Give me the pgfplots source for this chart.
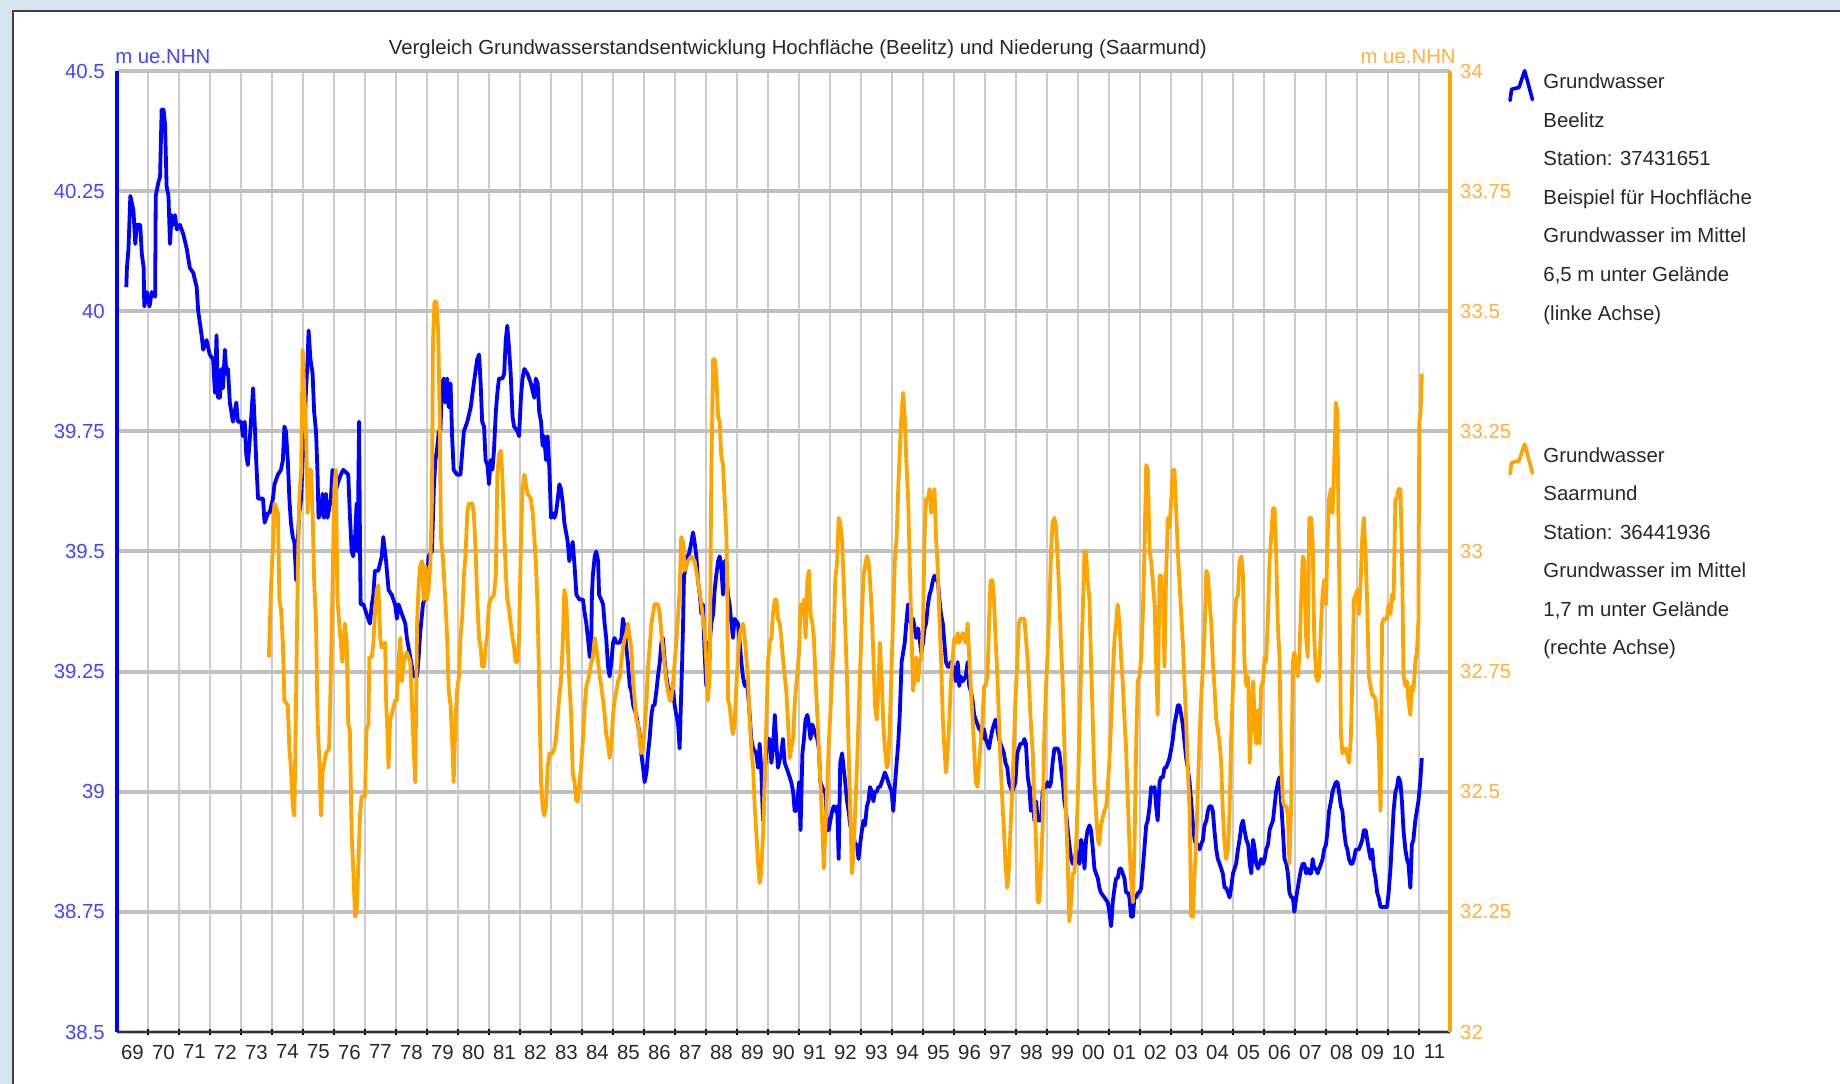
\documentclass[border=0pt]{standalone}
\usepackage{fontspec}
\setmainfont{Liberation Sans}
\usepackage{pgfplots}
\pgfplotsset{compat=1.18}

\definecolor{gwblue}{RGB}{0,0,255}
\definecolor{gworange}{RGB}{255,165,0}
\definecolor{lblblue}{RGB}{70,70,255}
\definecolor{lblorange}{RGB}{255,178,60}
\definecolor{gridh}{RGB}{192,192,192}
\definecolor{gridv}{RGB}{204,204,204}
\definecolor{framebg}{RGB}{212,229,239}
\definecolor{txt}{RGB}{40,40,40}

\newcommand{\gwfont}{\fontsize{14.5}{17}\selectfont}
\newcommand{\legfont}{\fontsize{14.5}{27.4}\selectfont}

\pgfplotsset{
  gwbase/.style={
    at={(29.25mm,13mm)}, anchor=south west,
    scale only axis, width=333.25mm, height=240.25mm,
    xmin=1969, xmax=2012,
    /pgf/number format/assume math mode=true,
    tick label style={font=\gwfont},
    separate axis lines,
    legend cell align=left,
    legend style={draw=none, fill=none, inner sep=0pt,
      nodes={inner sep=0pt}, column sep=2.3mm, font=\legfont, text=txt},
    legend image code/.code={
      \draw[##1, line width=0.9mm, line join=round, line cap=round]
        (0mm,-6.0mm) -- (0.37mm,-3.2mm) -- (2.23mm,-2.75mm)
        -- (3.63mm,1.45mm) -- (4.48mm,-1.6mm) -- (5.59mm,-5.8mm);},
  },
}

\begin{document}
\begin{tikzpicture}
\path[use as bounding box] (0,0) rectangle (460mm,271mm);
\fill[framebg] (0,0) rectangle (460mm,271mm);
\draw[fill=white, draw=black!75, line width=0.5mm] (3.25mm,-5mm) rectangle (470mm,268.25mm);

% Beelitz, left axis
\begin{axis}[gwbase,
  ymin=38.5, ymax=40.5,
  ytick={38.5,38.75,39,39.25,39.5,39.75,40,40.25,40.5},
  axis x line*=bottom, axis y line*=left,
  x axis line style={draw=black!80, line width=0.5mm, -},
  y axis line style={draw=gwblue, line width=1mm, -},
  xtick={1969.5,1970.5,...,2011.5},
  xticklabels={69,70,71,72,73,74,75,76,77,78,79,80,81,82,83,84,85,86,87,88,89,90,91,92,93,94,95,96,97,98,99,00,01,02,03,04,05,06,07,08,09,10,11},
  minor xtick={1970,1971,...,2011},
  major tick length=0pt,
  minor tick length=1.6mm,
  tick align=center,
  minor tick style={draw=black, line width=0.3mm},
  ymajorgrids, xminorgrids,
  major grid style={draw=gridh, line width=1mm},
  minor grid style={draw=gridv, line width=0.4mm},
  xticklabel style={text=txt, yshift=-2mm},
  yticklabel style={text=lblblue, xshift=-1.8mm},
  title={Vergleich Grundwasserstandsentwicklung Hochfläche (Beelitz) und Niederung (Saarmund)},
  every axis title/.style={at={(axis description cs:0.5,1)}, anchor=base,
    xshift=3.6mm, yshift=4.2mm, inner sep=0pt, font=\gwfont, text=txt},
  ylabel={m ue.NHN},
  every axis y label/.style={at={(axis description cs:0,1)}, anchor=base west,
    xshift=-0.5mm, yshift=1.8mm, inner sep=0pt, font=\gwfont, text=lblblue},
  legend style={at={(axis description cs:1.0435,1.0097)}, anchor=north west},
]
\addplot[gwblue, line width=0.95mm, line join=round, mark=none] coordinates {
(1969.30,40.05)(1969.32,40.09)(1969.37,40.13)(1969.43,40.24)(1969.53,40.21)(1969.59,40.14)(1969.64,40.18)(1969.75,40.18)
(1969.80,40.12)(1969.86,40.09)(1969.88,40.01)(1969.96,40.04)(1970.05,40.01)(1970.12,40.04)(1970.23,40.03)(1970.25,40.24)
(1970.34,40.27)(1970.39,40.28)(1970.44,40.42)(1970.50,40.42)(1970.55,40.39)(1970.60,40.26)(1970.66,40.24)(1970.71,40.14)
(1970.76,40.20)(1970.82,40.18)(1970.87,40.20)(1970.93,40.17)(1971.03,40.18)(1971.14,40.16)(1971.25,40.13)(1971.35,40.09)
(1971.46,40.08)(1971.57,40.05)(1971.62,40.00)(1971.73,39.95)(1971.78,39.92)(1971.89,39.94)(1971.99,39.91)(1972.10,39.90)
(1972.16,39.83)(1972.21,39.95)(1972.26,39.82)(1972.32,39.82)(1972.37,39.88)(1972.42,39.84)(1972.48,39.92)(1972.53,39.87)
(1972.58,39.88)(1972.64,39.81)(1972.74,39.77)(1972.85,39.81)(1972.90,39.77)(1973.01,39.77)(1973.06,39.74)(1973.12,39.77)
(1973.17,39.70)(1973.22,39.68)(1973.28,39.73)(1973.33,39.78)(1973.39,39.84)(1973.44,39.77)(1973.49,39.69)(1973.55,39.61)
(1973.60,39.61)(1973.71,39.61)(1973.76,39.56)(1973.87,39.58)(1973.92,39.58)(1974.03,39.61)(1974.08,39.64)(1974.19,39.66)
(1974.29,39.67)(1974.35,39.69)(1974.40,39.76)(1974.45,39.75)(1974.51,39.69)(1974.56,39.61)(1974.61,39.56)(1974.67,39.53)
(1974.72,39.52)(1974.78,39.44)(1974.83,39.52)(1974.88,39.58)(1974.94,39.61)(1974.99,39.69)(1975.04,39.74)(1975.10,39.84)
(1975.15,39.90)(1975.18,39.96)(1975.24,39.90)(1975.31,39.87)(1975.36,39.79)(1975.42,39.75)(1975.47,39.66)(1975.50,39.57)
(1975.58,39.58)(1975.63,39.62)(1975.68,39.57)(1975.74,39.62)(1975.79,39.57)(1975.90,39.61)(1975.95,39.67)(1976.01,39.61)
(1976.11,39.64)(1976.22,39.66)(1976.30,39.67)(1976.46,39.66)(1976.51,39.58)(1976.57,39.50)(1976.62,39.49)(1976.68,39.53)
(1976.73,39.60)(1976.76,39.50)(1976.81,39.77)(1976.84,39.50)(1976.86,39.39)(1976.95,39.39)(1977.05,39.37)(1977.16,39.35)
(1977.22,39.39)(1977.27,39.41)(1977.32,39.46)(1977.43,39.46)(1977.54,39.49)(1977.59,39.53)(1977.68,39.48)(1977.76,39.42)
(1977.86,39.41)(1977.97,39.39)(1978.03,39.36)(1978.08,39.39)(1978.19,39.37)(1978.30,39.35)(1978.35,39.32)(1978.46,39.28)
(1978.57,39.24)(1978.68,39.24)(1978.73,39.28)(1978.78,39.33)(1978.87,39.39)(1978.95,39.41)(1979.00,39.44)(1979.05,39.49)
(1979.16,39.50)(1979.22,39.63)(1979.27,39.69)(1979.32,39.71)(1979.38,39.75)(1979.43,39.75)(1979.49,39.85)(1979.54,39.86)
(1979.59,39.81)(1979.65,39.86)(1979.70,39.80)(1979.76,39.85)(1979.81,39.74)(1979.86,39.67)(1979.97,39.66)(1980.08,39.66)
(1980.14,39.71)(1980.19,39.75)(1980.30,39.77)(1980.41,39.80)(1980.51,39.85)(1980.62,39.90)(1980.68,39.91)(1980.73,39.85)
(1980.78,39.77)(1980.84,39.76)(1980.89,39.69)(1980.95,39.68)(1981.00,39.64)(1981.05,39.69)(1981.11,39.67)(1981.16,39.71)
(1981.22,39.79)(1981.27,39.83)(1981.32,39.86)(1981.43,39.86)(1981.49,39.87)(1981.54,39.94)(1981.59,39.97)(1981.65,39.92)
(1981.70,39.87)(1981.76,39.78)(1981.81,39.76)(1981.92,39.75)(1981.97,39.74)(1982.03,39.82)(1982.08,39.86)(1982.14,39.88)
(1982.24,39.87)(1982.35,39.85)(1982.46,39.82)(1982.51,39.86)(1982.57,39.85)(1982.62,39.79)(1982.68,39.77)(1982.73,39.72)
(1982.78,39.74)(1982.84,39.69)(1982.89,39.74)(1982.95,39.67)(1983.00,39.57)(1983.05,39.58)(1983.11,39.57)(1983.16,39.58)
(1983.22,39.61)(1983.27,39.64)(1983.32,39.63)(1983.38,39.60)(1983.43,39.56)(1983.54,39.52)(1983.59,39.48)(1983.70,39.52)
(1983.76,39.47)(1983.82,39.41)(1983.92,39.40)(1984.03,39.40)(1984.09,39.37)(1984.14,39.35)(1984.19,39.32)(1984.25,39.28)
(1984.30,39.32)(1984.32,39.41)(1984.35,39.45)(1984.41,39.49)(1984.46,39.50)(1984.52,39.48)(1984.55,39.41)(1984.62,39.40)
(1984.68,39.39)(1984.73,39.35)(1984.78,39.32)(1984.84,39.26)(1984.89,39.24)(1984.95,39.27)(1985.00,39.31)(1985.05,39.32)
(1985.11,39.31)(1985.22,39.31)(1985.27,39.32)(1985.32,39.36)(1985.38,39.34)(1985.43,39.30)(1985.48,39.27)(1985.54,39.22)
(1985.59,39.21)(1985.65,39.18)(1985.75,39.16)(1985.86,39.12)(1985.91,39.08)(1985.97,39.05)(1986.02,39.02)(1986.08,39.04)
(1986.13,39.08)(1986.18,39.11)(1986.24,39.16)(1986.29,39.18)(1986.34,39.18)(1986.40,39.21)(1986.45,39.24)(1986.51,39.27)
(1986.56,39.31)(1986.61,39.32)(1986.67,39.27)(1986.72,39.24)(1986.77,39.22)(1986.83,39.21)(1986.88,39.19)(1986.94,39.21)
(1986.99,39.18)(1987.04,39.16)(1987.10,39.14)(1987.15,39.09)(1987.18,39.16)(1987.23,39.27)(1987.26,39.35)(1987.29,39.45)
(1987.33,39.46)(1987.37,39.49)(1987.42,39.49)(1987.47,39.50)(1987.53,39.52)(1987.58,39.54)(1987.63,39.52)(1987.69,39.49)
(1987.74,39.44)(1987.80,39.41)(1987.85,39.37)(1987.90,39.39)(1987.96,39.28)(1988.01,39.22)(1988.06,39.31)(1988.12,39.31)
(1988.17,39.35)(1988.23,39.37)(1988.28,39.42)(1988.33,39.45)(1988.39,39.48)(1988.44,39.49)(1988.49,39.47)(1988.55,39.41)
(1988.60,39.48)(1988.66,39.45)(1988.71,39.41)(1988.76,39.39)(1988.82,39.35)(1988.87,39.32)(1988.92,39.36)(1989.03,39.35)
(1989.09,39.31)(1989.14,39.27)(1989.19,39.24)(1989.25,39.22)(1989.30,39.23)(1989.35,39.21)(1989.41,39.16)(1989.46,39.11)
(1989.52,39.09)(1989.62,39.08)(1989.68,39.05)(1989.73,39.10)(1989.78,39.05)(1989.84,38.94)(1989.89,39.04)(1989.95,39.09)
(1990.00,39.11)(1990.05,39.11)(1990.11,39.06)(1990.16,39.09)(1990.22,39.16)(1990.27,39.10)(1990.32,39.05)(1990.43,39.08)
(1990.48,39.11)(1990.54,39.06)(1990.65,39.04)(1990.75,39.02)(1990.81,39.00)(1990.86,38.96)(1990.91,38.96)(1990.95,38.98)
(1991.00,39.02)(1991.05,38.92)(1991.11,39.08)(1991.16,39.11)(1991.21,39.15)(1991.27,39.16)(1991.32,39.14)(1991.37,39.11)
(1991.43,39.14)(1991.48,39.13)(1991.53,39.12)(1991.59,39.11)(1991.64,39.09)(1991.69,39.02)(1991.75,39.01)(1991.80,39.00)
(1991.85,39.00)(1991.91,38.92)(1991.96,38.92)(1992.01,38.94)(1992.07,38.96)(1992.12,38.97)(1992.17,38.96)(1992.23,38.97)
(1992.28,38.86)(1992.33,39.06)(1992.39,39.08)(1992.44,39.05)(1992.49,39.02)(1992.55,38.98)(1992.60,38.96)(1992.65,38.93)
(1992.71,38.92)(1992.76,38.91)(1992.81,38.89)(1992.87,38.89)(1992.92,38.86)(1992.97,38.89)(1993.03,38.92)(1993.08,38.94)
(1993.13,38.93)(1993.19,38.97)(1993.24,38.98)(1993.29,39.01)(1993.35,39.00)(1993.40,38.98)(1993.45,39.00)(1993.51,39.00)
(1993.56,39.01)(1993.61,39.01)(1993.67,39.02)(1993.72,39.03)(1993.77,39.04)(1993.83,39.03)(1993.88,39.02)(1993.93,39.01)
(1993.99,39.00)(1994.04,38.96)(1994.09,39.01)(1994.15,39.06)(1994.20,39.10)(1994.25,39.16)(1994.31,39.27)(1994.36,39.29)
(1994.41,39.31)(1994.46,39.35)(1994.52,39.39)(1994.57,39.36)(1994.62,39.35)(1994.68,39.36)(1994.73,39.34)(1994.78,39.32)
(1994.84,39.34)(1994.89,39.32)(1994.94,39.29)(1995.00,39.31)(1995.05,39.34)(1995.10,39.35)(1995.16,39.39)(1995.21,39.41)
(1995.26,39.42)(1995.32,39.44)(1995.37,39.45)(1995.42,39.44)(1995.48,39.44)(1995.53,39.40)(1995.58,39.37)(1995.64,39.35)
(1995.69,39.31)(1995.74,39.27)(1995.80,39.26)(1995.85,39.26)(1995.90,39.27)(1995.96,39.26)(1996.01,39.26)(1996.06,39.23)
(1996.12,39.27)(1996.17,39.22)(1996.22,39.24)(1996.28,39.23)(1996.38,39.24)(1996.44,39.27)(1996.49,39.22)(1996.54,39.21)
(1996.60,39.19)(1996.65,39.16)(1996.70,39.15)(1996.76,39.14)(1996.81,39.13)(1996.86,39.13)(1996.92,39.11)(1996.97,39.13)
(1997.02,39.11)(1997.08,39.10)(1997.13,39.09)(1997.18,39.11)(1997.24,39.13)(1997.29,39.14)(1997.34,39.15)(1997.40,39.13)
(1997.45,39.11)(1997.50,39.10)(1997.56,39.09)(1997.61,39.08)(1997.66,39.06)(1997.72,39.05)(1997.77,39.02)(1997.82,39.01)
(1997.88,39.00)(1997.93,39.01)(1997.98,39.02)(1998.04,39.08)(1998.09,39.09)(1998.14,39.10)(1998.22,39.10)(1998.27,39.11)
(1998.32,39.10)(1998.38,39.03)(1998.43,39.01)(1998.48,38.96)(1998.54,39.01)(1998.59,38.94)(1998.65,38.98)(1998.70,38.94)
(1998.81,38.94)(1998.86,39.00)(1998.91,39.01)(1998.97,39.01)(1999.02,39.02)(1999.08,39.01)(1999.13,39.02)(1999.18,39.06)
(1999.24,39.09)(1999.29,39.09)(1999.35,39.09)(1999.40,39.08)(1999.45,39.05)(1999.51,39.02)(1999.56,38.98)(1999.61,38.96)
(1999.67,38.92)(1999.72,38.89)(1999.78,38.86)(1999.83,38.85)(1999.88,38.85)(1999.94,38.88)(1999.99,38.86)(2000.05,38.85)
(2000.10,38.90)(2000.15,38.89)(2000.21,38.84)(2000.26,38.90)(2000.31,38.92)(2000.37,38.93)(2000.42,38.92)(2000.48,38.88)
(2000.53,38.84)(2000.58,38.83)(2000.64,38.82)(2000.69,38.80)(2000.74,38.79)(2000.85,38.78)(2000.96,38.77)(2001.01,38.75)
(2001.07,38.72)(2001.12,38.77)(2001.18,38.80)(2001.23,38.82)(2001.28,38.82)(2001.34,38.84)(2001.39,38.84)(2001.44,38.83)
(2001.50,38.82)(2001.55,38.79)(2001.61,38.79)(2001.66,38.78)(2001.71,38.74)(2001.77,38.74)(2001.82,38.78)(2001.88,38.78)
(2001.93,38.79)(2001.98,38.79)(2002.04,38.80)(2002.09,38.84)(2002.14,38.88)(2002.20,38.93)(2002.25,38.94)(2002.31,38.97)
(2002.36,39.01)(2002.41,39.00)(2002.47,39.01)(2002.52,38.97)(2002.57,38.94)(2002.63,39.02)(2002.68,39.03)(2002.74,39.03)
(2002.79,39.05)(2002.84,39.05)(2002.90,39.06)(2002.95,39.07)(2003.01,39.09)(2003.06,39.11)(2003.11,39.14)(2003.17,39.16)
(2003.22,39.18)(2003.27,39.18)(2003.33,39.16)(2003.38,39.14)(2003.44,39.10)(2003.49,39.07)(2003.54,39.05)(2003.60,39.02)
(2003.65,38.98)(2003.71,38.93)(2003.76,38.90)(2003.81,38.89)(2003.87,38.89)(2003.92,38.88)(2003.97,38.89)(2004.03,38.90)
(2004.08,38.93)(2004.14,38.94)(2004.19,38.96)(2004.24,38.97)(2004.30,38.97)(2004.35,38.96)(2004.40,38.92)(2004.46,38.88)
(2004.51,38.86)(2004.57,38.85)(2004.62,38.84)(2004.67,38.83)(2004.73,38.80)(2004.78,38.80)(2004.84,38.79)(2004.89,38.78)
(2004.94,38.80)(2005.00,38.83)(2005.05,38.84)(2005.10,38.85)(2005.16,38.88)(2005.21,38.90)(2005.27,38.93)(2005.32,38.94)
(2005.37,38.92)(2005.43,38.90)(2005.49,38.89)(2005.54,38.85)(2005.59,38.83)(2005.65,38.90)(2005.70,38.88)(2005.75,38.85)
(2005.81,38.84)(2005.86,38.85)(2005.91,38.86)(2005.97,38.85)(2006.02,38.86)(2006.07,38.88)(2006.13,38.89)(2006.18,38.92)
(2006.23,38.93)(2006.29,38.94)(2006.34,38.97)(2006.39,39.00)(2006.45,39.02)(2006.50,39.03)(2006.55,38.98)(2006.61,38.92)
(2006.66,38.86)(2006.72,38.85)(2006.77,38.83)(2006.82,38.79)(2006.88,38.78)(2006.93,38.78)(2006.98,38.75)(2007.04,38.78)
(2007.09,38.80)(2007.14,38.82)(2007.20,38.84)(2007.25,38.85)(2007.30,38.85)(2007.36,38.83)(2007.41,38.84)(2007.46,38.83)
(2007.52,38.83)(2007.57,38.86)(2007.62,38.84)(2007.68,38.84)(2007.73,38.83)(2007.78,38.84)(2007.84,38.85)(2007.89,38.86)
(2007.94,38.88)(2008.00,38.89)(2008.05,38.92)(2008.10,38.96)(2008.16,38.98)(2008.21,39.00)(2008.26,39.01)(2008.32,39.02)
(2008.37,39.02)(2008.42,39.00)(2008.48,38.97)(2008.53,38.96)(2008.58,38.92)(2008.64,38.89)(2008.69,38.88)(2008.74,38.86)
(2008.80,38.85)(2008.85,38.85)(2008.90,38.86)(2008.96,38.88)(2009.01,38.88)(2009.06,38.88)(2009.12,38.89)(2009.17,38.90)
(2009.22,38.92)(2009.28,38.92)(2009.33,38.90)(2009.38,38.88)(2009.44,38.86)(2009.49,38.88)(2009.54,38.84)(2009.60,38.82)
(2009.65,38.79)(2009.70,38.78)(2009.76,38.76)(2009.81,38.76)(2009.86,38.76)(2009.92,38.76)(2009.97,38.76)(2010.02,38.79)
(2010.08,38.84)(2010.13,38.90)(2010.18,38.96)(2010.24,39.00)(2010.29,39.01)(2010.34,39.03)(2010.40,39.02)(2010.45,38.98)
(2010.50,38.92)(2010.56,38.88)(2010.61,38.86)(2010.66,38.85)(2010.72,38.80)(2010.77,38.89)(2010.82,38.90)(2010.88,38.94)
(2010.93,38.96)(2010.98,38.98)(2011.04,39.02)(2011.09,39.07)
};
\addlegendentry{\begin{tabular}[t]{@{}l@{}}Grundwasser\\Beelitz\\Station: 37431651\\Beispiel für Hochfläche\\Grundwasser im Mittel\\6,5 m unter Gelände\\(linke Achse)\end{tabular}}
\end{axis}

% Saarmund, right axis
\begin{axis}[gwbase,
  ymin=32, ymax=34,
  ytick={32,32.25,32.5,32.75,33,33.25,33.5,33.75,34},
  hide x axis,
  axis y line*=right,
  y axis line style={draw=gworange, line width=1mm, -},
  major tick length=0pt,
  yticklabel style={text=lblorange, xshift=1.3mm},
  ylabel={m ue.NHN},
  every axis y label/.style={at={(axis description cs:1,1)}, anchor=base east,
    xshift=1.5mm, yshift=1.8mm, inner sep=0pt, font=\gwfont, text=lblorange},
  legend style={at={(axis description cs:1.0435,0.6212)}, anchor=north west},
]
\addplot[gworange, line width=0.95mm, line join=round, mark=none] coordinates {
(1973.90,32.78)(1973.97,32.93)(1974.03,33.01)(1974.08,33.10)(1974.19,33.08)(1974.24,32.90)(1974.29,32.88)(1974.35,32.81)
(1974.40,32.69)(1974.51,32.68)(1974.56,32.59)(1974.61,32.55)(1974.67,32.47)(1974.72,32.45)(1974.78,32.71)(1974.83,32.95)
(1974.88,33.11)(1974.94,33.17)(1974.99,33.42)(1975.04,33.34)(1975.10,33.24)(1975.15,33.08)(1975.20,33.17)(1975.26,33.17)
(1975.31,33.08)(1975.36,32.94)(1975.42,32.85)(1975.47,32.65)(1975.53,32.56)(1975.58,32.45)(1975.63,32.54)(1975.74,32.58)
(1975.84,32.59)(1975.88,32.69)(1975.95,32.92)(1976.01,33.13)(1976.06,33.17)(1976.11,32.90)(1976.17,32.85)(1976.27,32.77)
(1976.35,32.85)(1976.41,32.81)(1976.46,32.64)(1976.51,32.63)(1976.57,32.41)(1976.62,32.34)(1976.68,32.24)(1976.73,32.25)
(1976.78,32.34)(1976.84,32.45)(1976.89,32.49)(1977.00,32.49)(1977.05,32.63)(1977.11,32.64)(1977.14,32.78)(1977.22,32.78)
(1977.27,32.81)(1977.32,32.87)(1977.38,32.92)(1977.43,32.93)(1977.49,32.82)(1977.54,32.80)(1977.65,32.81)(1977.68,32.69)
(1977.72,32.63)(1977.76,32.55)(1977.81,32.65)(1977.86,32.66)(1977.97,32.69)(1978.03,32.69)(1978.08,32.77)(1978.14,32.82)
(1978.19,32.73)(1978.24,32.77)(1978.35,32.79)(1978.46,32.77)(1978.51,32.69)(1978.57,32.59)(1978.62,32.52)(1978.68,32.85)
(1978.73,32.93)(1978.78,32.97)(1978.84,32.98)(1978.89,32.90)(1978.95,32.97)(1979.00,32.90)(1979.05,32.92)(1979.11,32.98)
(1979.16,33.11)(1979.19,33.43)(1979.24,33.52)(1979.30,33.52)(1979.36,33.46)(1979.41,33.28)(1979.45,33.03)(1979.52,32.98)
(1979.59,32.90)(1979.65,32.82)(1979.70,32.71)(1979.76,32.68)(1979.81,32.61)(1979.86,32.52)(1979.92,32.65)(1979.97,32.71)
(1980.03,32.74)(1980.08,32.82)(1980.14,32.87)(1980.19,32.95)(1980.24,32.99)(1980.30,33.08)(1980.35,33.10)(1980.46,33.10)
(1980.51,33.08)(1980.57,33.00)(1980.62,32.90)(1980.68,32.82)(1980.73,32.80)(1980.78,32.76)(1980.84,32.76)(1980.89,32.80)
(1980.95,32.83)(1981.00,32.89)(1981.05,32.90)(1981.16,32.91)(1981.22,32.95)(1981.27,33.16)(1981.32,33.20)(1981.38,33.21)
(1981.43,33.16)(1981.49,33.04)(1981.54,32.96)(1981.59,32.90)(1981.65,32.88)(1981.70,32.85)(1981.76,32.82)(1981.81,32.80)
(1981.86,32.77)(1981.92,32.77)(1981.97,32.82)(1982.03,33.02)(1982.08,33.13)(1982.14,33.16)(1982.19,33.14)(1982.24,33.12)
(1982.35,33.11)(1982.41,33.08)(1982.46,33.03)(1982.51,32.98)(1982.57,32.88)(1982.62,32.71)(1982.68,32.52)(1982.73,32.47)
(1982.78,32.45)(1982.84,32.47)(1982.89,32.55)(1982.95,32.58)(1983.05,32.58)(1983.11,32.59)(1983.16,32.61)(1983.22,32.66)
(1983.27,32.70)(1983.32,32.73)(1983.38,32.81)(1983.43,32.92)(1983.49,32.90)(1983.54,32.81)(1983.59,32.73)(1983.65,32.66)
(1983.70,32.54)(1983.76,32.52)(1983.82,32.48)(1983.87,32.48)(1983.92,32.52)(1983.98,32.56)(1984.03,32.61)(1984.09,32.68)
(1984.14,32.72)(1984.19,32.73)(1984.25,32.75)(1984.30,32.77)(1984.35,32.78)(1984.41,32.82)(1984.46,32.80)(1984.52,32.77)
(1984.57,32.74)(1984.62,32.72)(1984.68,32.69)(1984.73,32.66)(1984.78,32.62)(1984.84,32.60)(1984.89,32.57)(1984.95,32.60)
(1985.00,32.66)(1985.05,32.69)(1985.11,32.71)(1985.16,32.73)(1985.22,32.74)(1985.27,32.77)(1985.32,32.80)(1985.38,32.82)
(1985.43,32.83)(1985.48,32.85)(1985.54,32.82)(1985.59,32.80)(1985.65,32.73)(1985.70,32.69)(1985.75,32.65)(1985.81,32.64)
(1985.86,32.61)(1985.91,32.58)(1985.97,32.59)(1986.02,32.63)(1986.08,32.69)(1986.13,32.76)(1986.18,32.80)(1986.24,32.85)
(1986.29,32.87)(1986.34,32.89)(1986.45,32.89)(1986.51,32.87)(1986.56,32.83)(1986.61,32.80)(1986.67,32.76)(1986.72,32.73)
(1986.77,32.71)(1986.83,32.69)(1986.88,32.69)(1986.94,32.73)(1986.99,32.77)(1987.04,32.81)(1987.10,32.87)(1987.15,32.92)
(1987.20,33.03)(1987.26,33.02)(1987.31,32.96)(1987.42,32.98)(1987.53,32.99)(1987.63,32.98)(1987.74,32.94)(1987.85,32.89)
(1987.96,32.83)(1988.01,32.77)(1988.06,32.69)(1988.12,32.74)(1988.17,33.16)(1988.23,33.40)(1988.28,33.40)(1988.33,33.37)
(1988.39,33.28)(1988.44,33.27)(1988.49,33.20)(1988.55,33.18)(1988.60,33.11)(1988.66,33.03)(1988.69,32.90)(1988.71,32.69)
(1988.76,32.68)(1988.82,32.64)(1988.87,32.62)(1988.92,32.64)(1988.98,32.72)(1989.03,32.78)(1989.09,32.83)(1989.19,32.85)
(1989.25,32.82)(1989.30,32.78)(1989.35,32.74)(1989.41,32.65)(1989.46,32.59)(1989.52,32.55)(1989.57,32.47)(1989.62,32.42)
(1989.68,32.35)(1989.73,32.31)(1989.78,32.33)(1989.84,32.41)(1989.89,32.52)(1989.95,32.65)(1990.00,32.77)(1990.05,32.81)
(1990.11,32.82)(1990.16,32.87)(1990.22,32.90)(1990.27,32.90)(1990.32,32.86)(1990.38,32.85)(1990.43,32.82)(1990.48,32.78)
(1990.54,32.74)(1990.59,32.71)(1990.65,32.64)(1990.70,32.57)(1990.75,32.59)(1990.81,32.61)(1990.86,32.68)(1990.91,32.72)
(1991.00,32.79)(1991.05,32.89)(1991.11,32.87)(1991.16,32.90)(1991.21,32.82)(1991.27,32.94)(1991.32,32.96)(1991.37,32.87)
(1991.43,32.85)(1991.48,32.82)(1991.53,32.74)(1991.59,32.66)(1991.64,32.59)(1991.69,32.52)(1991.75,32.43)(1991.80,32.34)
(1991.85,32.42)(1991.91,32.51)(1991.96,32.60)(1992.01,32.66)(1992.07,32.75)(1992.12,32.82)(1992.17,32.94)(1992.23,32.98)
(1992.28,33.07)(1992.33,33.06)(1992.39,33.02)(1992.44,32.94)(1992.49,32.85)(1992.55,32.73)(1992.60,32.59)(1992.65,32.46)
(1992.71,32.33)(1992.76,32.38)(1992.81,32.46)(1992.87,32.55)(1992.92,32.65)(1992.97,32.75)(1993.03,32.87)(1993.08,32.95)
(1993.13,32.97)(1993.19,32.99)(1993.24,32.98)(1993.29,32.94)(1993.35,32.87)(1993.40,32.78)(1993.45,32.68)(1993.51,32.65)
(1993.56,32.72)(1993.61,32.81)(1993.67,32.73)(1993.72,32.64)(1993.77,32.59)(1993.83,32.55)(1993.88,32.56)(1993.93,32.64)
(1993.99,32.77)(1994.04,32.87)(1994.09,32.98)(1994.15,33.03)(1994.20,33.13)(1994.25,33.21)(1994.31,33.29)(1994.36,33.33)
(1994.41,33.28)(1994.46,33.19)(1994.52,33.11)(1994.57,32.98)(1994.62,32.85)(1994.68,32.71)(1994.73,32.74)(1994.78,32.78)
(1994.84,32.73)(1994.89,32.77)(1994.94,32.78)(1995.00,32.85)(1995.05,33.03)(1995.10,33.11)(1995.16,33.11)(1995.21,33.13)
(1995.26,33.08)(1995.32,33.11)(1995.37,33.13)(1995.42,33.03)(1995.48,32.96)(1995.53,32.86)(1995.58,32.78)(1995.64,32.65)
(1995.69,32.59)(1995.74,32.54)(1995.80,32.59)(1995.85,32.65)(1995.90,32.73)(1995.96,32.78)(1996.01,32.82)(1996.06,32.81)
(1996.12,32.83)(1996.17,32.81)(1996.22,32.82)(1996.28,32.83)(1996.33,32.82)(1996.38,32.81)(1996.44,32.85)(1996.49,32.78)
(1996.54,32.72)(1996.60,32.65)(1996.65,32.59)(1996.70,32.52)(1996.76,32.51)(1996.81,32.56)(1996.86,32.60)(1996.92,32.65)
(1996.97,32.72)(1997.02,32.72)(1997.08,32.74)(1997.13,32.85)(1997.18,32.94)(1997.24,32.94)(1997.29,32.90)(1997.34,32.82)
(1997.40,32.74)(1997.45,32.65)(1997.50,32.56)(1997.56,32.48)(1997.61,32.42)(1997.66,32.35)(1997.72,32.30)(1997.77,32.34)
(1997.82,32.42)(1997.88,32.50)(1997.93,32.59)(1997.98,32.69)(1998.04,32.77)(1998.09,32.85)(1998.14,32.86)(1998.22,32.86)
(1998.27,32.86)(1998.32,32.82)(1998.38,32.77)(1998.43,32.71)(1998.48,32.64)(1998.54,32.58)(1998.59,32.48)(1998.65,32.39)
(1998.70,32.27)(1998.75,32.27)(1998.81,32.35)(1998.86,32.43)(1998.91,32.61)(1998.97,32.72)(1999.02,32.79)(1999.08,32.89)
(1999.13,33.00)(1999.18,33.06)(1999.24,33.07)(1999.29,33.05)(1999.35,32.98)(1999.40,32.90)(1999.45,32.81)(1999.51,32.72)
(1999.56,32.60)(1999.61,32.46)(1999.67,32.35)(1999.72,32.23)(1999.78,32.27)(1999.83,32.33)(1999.88,32.33)(1999.94,32.39)
(1999.99,32.48)(2000.05,32.64)(2000.10,32.76)(2000.15,32.87)(2000.21,33.00)(2000.26,33.00)(2000.31,32.94)(2000.37,32.90)
(2000.42,32.77)(2000.48,32.64)(2000.53,32.52)(2000.58,32.46)(2000.64,32.40)(2000.69,32.39)(2000.74,32.43)(2000.85,32.46)
(2000.91,32.47)(2000.96,32.51)(2001.01,32.56)(2001.07,32.65)(2001.12,32.74)(2001.18,32.82)(2001.23,32.85)(2001.28,32.89)
(2001.34,32.85)(2001.39,32.78)(2001.44,32.73)(2001.50,32.65)(2001.55,32.59)(2001.61,32.48)(2001.66,32.39)(2001.71,32.32)
(2001.77,32.27)(2001.82,32.38)(2001.88,32.61)(2001.93,32.73)(2001.98,32.74)(2002.04,32.78)(2002.09,32.87)(2002.14,32.99)
(2002.20,33.18)(2002.25,33.17)(2002.31,33.00)(2002.36,32.98)(2002.41,32.94)(2002.47,32.89)(2002.52,32.77)(2002.57,32.66)
(2002.63,32.95)(2002.68,32.95)(2002.74,32.91)(2002.79,32.76)(2002.84,32.95)(2002.90,33.07)(2002.95,33.05)(2003.01,33.11)
(2003.06,33.17)(2003.11,33.17)(2003.17,33.08)(2003.22,33.00)(2003.27,32.94)(2003.33,32.87)(2003.38,32.81)(2003.44,32.72)
(2003.49,32.64)(2003.54,32.55)(2003.60,32.46)(2003.65,32.24)(2003.71,32.24)(2003.76,32.33)(2003.81,32.39)(2003.87,32.51)
(2003.92,32.61)(2003.97,32.69)(2004.03,32.76)(2004.08,32.83)(2004.14,32.96)(2004.19,32.95)(2004.24,32.90)(2004.30,32.85)
(2004.35,32.77)(2004.40,32.72)(2004.46,32.65)(2004.51,32.63)(2004.57,32.60)(2004.62,32.56)(2004.67,32.46)(2004.73,32.39)
(2004.78,32.36)(2004.84,32.38)(2004.89,32.46)(2004.94,32.61)(2005.00,32.72)(2005.05,32.85)(2005.10,32.90)(2005.16,32.91)
(2005.21,32.98)(2005.27,32.99)(2005.32,32.95)(2005.37,32.77)(2005.43,32.72)(2005.49,32.74)(2005.54,32.56)(2005.59,32.65)
(2005.65,32.73)(2005.70,32.64)(2005.75,32.60)(2005.81,32.67)(2005.86,32.60)(2005.91,32.72)(2005.97,32.73)(2006.02,32.78)
(2006.07,32.77)(2006.13,32.87)(2006.18,32.98)(2006.23,33.03)(2006.29,33.09)(2006.34,33.09)(2006.39,33.00)(2006.45,32.84)
(2006.50,32.78)(2006.55,32.56)(2006.61,32.48)(2006.66,32.47)(2006.72,32.47)(2006.77,32.45)(2006.82,32.35)(2006.88,32.48)
(2006.93,32.77)(2006.98,32.79)(2007.04,32.77)(2007.09,32.74)(2007.14,32.78)(2007.20,32.90)(2007.25,32.99)(2007.30,32.98)
(2007.36,32.82)(2007.41,32.78)(2007.46,33.07)(2007.52,33.07)(2007.57,33.02)(2007.62,32.82)(2007.68,32.74)(2007.73,32.73)
(2007.78,32.74)(2007.84,32.85)(2007.89,32.91)(2007.94,32.94)(2008.00,32.89)(2008.05,33.03)(2008.10,33.11)(2008.16,33.13)
(2008.21,33.08)(2008.26,33.17)(2008.32,33.31)(2008.37,33.29)(2008.40,33.07)(2008.44,32.89)(2008.48,32.62)(2008.53,32.58)
(2008.64,32.59)(2008.74,32.56)(2008.80,32.61)(2008.85,32.74)(2008.90,32.90)(2008.96,32.91)(2009.01,32.92)(2009.06,32.87)
(2009.12,32.94)(2009.17,33.03)(2009.22,33.07)(2009.28,32.99)(2009.33,32.89)(2009.38,32.74)(2009.44,32.72)(2009.49,32.70)
(2009.54,32.70)(2009.60,32.69)(2009.65,32.65)(2009.70,32.60)(2009.76,32.46)(2009.81,32.85)(2009.86,32.86)(2009.97,32.86)
(2010.02,32.89)(2010.08,32.87)(2010.13,32.91)(2010.18,32.90)(2010.24,33.11)(2010.29,33.11)(2010.34,33.13)(2010.40,33.13)
(2010.45,33.00)(2010.50,32.74)(2010.56,32.72)(2010.61,32.73)(2010.66,32.69)(2010.72,32.66)(2010.77,32.72)(2010.82,32.71)
(2010.88,32.77)(2010.93,32.79)(2010.98,32.85)(2011.01,33.27)(2011.05,33.29)(2011.09,33.37)
};
\addlegendentry{\begin{tabular}[t]{@{}l@{}}Grundwasser\\Saarmund\\Station: 36441936\\Grundwasser im Mittel\\1,7 m unter Gelände\\(rechte Achse)\end{tabular}}
\end{axis}
\end{tikzpicture}
\end{document}
